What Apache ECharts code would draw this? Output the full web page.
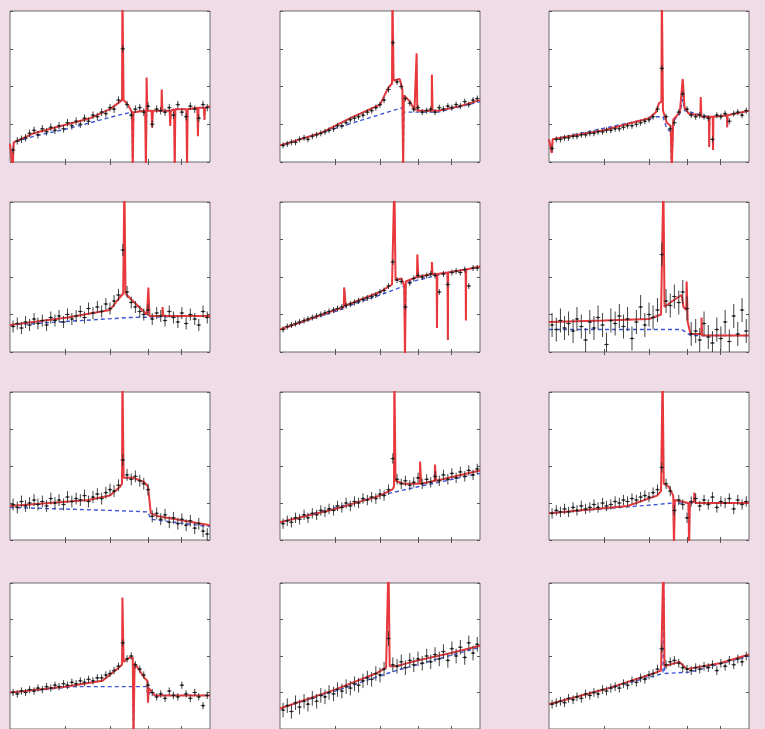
<!DOCTYPE html>
<html>
<head>
<meta charset="utf-8">
<script src="https://cdn.jsdelivr.net/npm/echarts@6/dist/echarts.min.js"></script>
<style>
  html, body { margin: 0; padding: 0; background: #efdce6; }
  #chart { width: 765px; height: 729px; }
</style>
</head>
<body>
<div id="chart"></div>
<script>
// Fe K band spectra, 4–9 keV, twelve sources in a 3 x 4 grid.
// Flux is in arbitrary units (0 = panel floor, 100 = panel top).

const energyKeV = [4.05,4.12,4.19,4.26,4.33,4.41,4.48,4.56,4.64,4.72,4.80,4.88,4.97,5.05,5.14,5.23,5.32,5.41,5.50,5.60,5.70,5.80,5.90,6.00,6.10,6.21,6.32,6.43,6.54,6.65,6.77,6.88,7.00,7.12,7.25,7.37,7.50,7.63,7.76,7.90,8.03,8.17,8.31,8.46,8.60,8.75,8.90];
const xTicks = [5, 6, 7, 8];

// measured fluxes, one array per source
const flux01 = [8,14,15,16,19,21,18,22,20,23,21,24,22,26,24,27,25,29,27,31,30,33,32,36,35,41,75,38,31,35,36,33,37,25,35,34,33,36,31,38,33,30,37,35,29,38,36];
const flux02 = [11,12,13,13,15,16,15,17,18,19,20,21,22,24,24,26,28,29,30,31,33,34,36,38,41,48,79,53,50,42,39,35,36,33,34,35,33,36,35,37,36,38,37,40,38,41,42];
const flux03 = [9,15,15,16,16,17,17,18,18,19,19,20,20,21,21,22,22,23,24,24,25,26,27,28,30,35,62,30,22,26,33,45,35,31,30,31,30,29,15,31,30,32,27,32,33,31,34];
const flux04 = [17,19,16,20,18,22,19,21,18,23,21,24,20,25,22,24,27,23,29,26,30,27,32,29,34,38,68,40,33,30,27,25,28,22,26,24,21,27,23,20,26,19,25,22,18,27,23];
const flux05 = [15,17,18,19,20,21,22,23,24,25,26,27,28,29,30,31,32,33,34,35,36,37,38,40,41,44,60,48,47,30,46,49,51,50,51,52,51,40,52,45,53,54,53,55,44,56,56];
const flux06 = [18,15,21,16,19,14,22,17,8,20,16,23,18,5,21,19,24,17,22,9,20,30,18,25,23,28,65,34,31,37,33,40,29,12,14,8,19,10,6,15,9,20,7,24,12,28,14];
const flux07 = [24,22,26,23,25,27,24,26,23,28,25,27,24,29,26,28,27,30,26,29,31,28,32,34,33,37,54,44,41,43,40,38,34,16,18,14,17,12,15,11,14,10,13,8,11,6,4];
const flux08 = [11,13,12,15,14,17,15,18,17,20,19,21,20,23,22,25,23,26,25,28,27,29,28,31,30,34,55,41,38,40,37,39,42,38,41,39,43,40,44,41,45,42,46,43,47,44,48];
const flux09 = [18,20,19,21,19,22,20,23,21,22,24,22,25,23,24,26,25,27,26,28,27,29,30,29,32,34,49,38,33,20,27,24,15,26,28,23,27,24,29,22,26,25,28,21,27,24,26];
const flux10 = [25,24,26,25,27,26,28,27,29,28,30,29,31,30,32,31,33,32,34,33,35,35,37,38,40,43,59,48,50,44,41,37,30,25,22,24,21,26,23,22,30,24,21,25,22,16,23];
const flux11 = [13,16,12,18,15,19,17,21,19,23,22,25,24,27,26,29,28,31,30,33,35,34,38,37,41,62,44,43,46,42,47,44,48,45,50,46,51,48,53,47,55,50,56,49,59,52,58];
const flux12 = [17,18,19,18,21,20,22,21,24,23,25,24,27,26,28,29,28,31,30,33,32,35,34,37,38,41,55,44,46,47,45,42,41,40,42,41,43,42,44,40,45,43,47,44,48,46,50];

// 1-sigma errors, one per source
const fluxErr = [2.5, 2, 2, 4, 2, 8, 4, 3.5, 3.5, 2.5, 5, 3];

// best-fitting model (continuum + lines), [keV, flux]
const model01 = [[4,12],[4.03,12],[4.045,-5],[4.06,13],[4.4,19],[5.05,25],[5.54,29],[6.0,35],[6.2,39],[6.3,41],[6.31,115],[6.33,115],[6.34,41],[6.45,38],[6.56,33],[6.58,-5],[6.6,33],[6.92,34],[6.94,-5],[6.955,34],[6.96,56],[6.975,56],[6.98,34],[7.1,34],[7.12,23],[7.14,34],[7.39,34],[7.4,48],[7.415,48],[7.42,34],[7.64,34],[7.66,24],[7.68,34],[7.78,35],[7.8,-5],[7.82,35],[8.18,35],[8.2,-5],[8.22,35],[8.55,36],[8.57,17],[8.59,36],[8.78,36],[8.8,28],[8.82,36],[9,37]];
const model02 = [[4,11],[4.71,19],[5.32,29],[6.0,38],[6.2,49],[6.3,52],[6.31,115],[6.33,115],[6.34,54],[6.5,55],[6.57,48],[6.59,-5],[6.61,44],[6.78,40],[6.9,34],[6.955,34],[6.96,72],[6.975,72],[6.98,34],[7.4,34],[7.405,58],[7.42,58],[7.425,34],[7.6,34],[8.3,37],[9,41]];
const model03 = [[4,15],[4.03,15],[4.045,6],[4.06,15],[5,21],[6.0,29],[6.17,33],[6.25,39],[6.31,40],[6.32,115],[6.34,115],[6.35,34],[6.45,26],[6.55,24],[6.58,-5],[6.62,28],[6.8,33],[6.86,50],[6.88,55],[6.9,55],[6.93,36],[7.05,32],[7.39,31],[7.4,43],[7.415,43],[7.42,30],[7.65,30],[7.66,10],[7.67,30],[7.77,30],[7.78,8],[7.79,30],[8.23,31],[8.24,23],[8.25,31],[9,34]];
const model04 = [[4,18],[5.05,23],[6.0,28],[6.2,35],[6.33,39],[6.35,39],[6.36,115],[6.38,115],[6.39,39],[6.5,36],[6.97,25],[7.0,25],[7.01,43],[7.03,43],[7.04,24],[7.42,24],[7.425,30],[7.44,30],[7.445,24],[9,24]];
const model05 = [[4,15],[5.0,28],[5.18,30],[5.19,43],[5.21,43],[5.22,31],[6.0,40],[6.3,45],[6.35,46],[6.36,115],[6.38,115],[6.39,48],[6.55,49],[6.62,44],[6.64,-5],[6.66,47],[6.97,50],[6.98,65],[7.0,65],[7.01,50],[7.4,52],[7.405,60],[7.42,60],[7.425,52],[7.55,52],[7.56,16],[7.57,52],[7.89,53],[7.9,8],[7.91,53],[8.49,55],[8.5,21],[8.51,55],[9,57]];
const model06 = [[4,20],[5.0,21],[6.0,22],[6.3,25],[6.35,25],[6.36,115],[6.38,115],[6.39,30],[6.6,34],[6.85,38],[6.9,30],[6.98,28],[6.99,47],[7.01,47],[7.02,20],[7.1,12],[7.42,12],[7.425,23],[7.44,23],[7.445,11],[9,11]];
const model07 = [[4,23],[5.5,27],[6.0,30],[6.25,36],[6.3,38],[6.31,115],[6.33,115],[6.34,42],[6.6,42],[6.9,39],[7.0,36],[7.08,18],[7.3,16],[9,10]];
const model08 = [[4,12],[5.0,21],[6.0,30],[6.3,34],[6.35,36],[6.36,115],[6.38,115],[6.39,40],[6.6,38],[7.05,38],[7.06,53],[7.08,53],[7.09,38],[7.49,40],[7.5,51],[7.52,51],[7.53,40],[9,47]];
const model09 = [[4,18],[5.5,23],[6.2,30],[6.3,33],[6.33,34],[6.34,115],[6.36,115],[6.37,38],[6.5,36],[6.62,30],[6.64,-5],[6.66,27],[7.04,25],[7.06,-5],[7.08,25],[7.2,26],[7.21,32],[7.23,32],[7.24,25],[9,25]];
const model10 = [[4,25],[5.0,29],[5.82,33],[6.17,41],[6.3,44],[6.31,90],[6.33,90],[6.34,46],[6.5,49],[6.58,49],[6.6,-5],[6.63,45],[6.9,35],[6.98,33],[7.0,18],[7.02,28],[7.2,23],[9,23]];
const model11 = [[4,14],[5.0,27],[5.9,38],[6.15,42],[6.2,42],[6.21,115],[6.23,115],[6.24,43],[6.4,43],[7.0,47],[8.0,52],[9,57]];
const model12 = [[4,17],[5.0,27],[6.0,37],[6.3,40],[6.35,41],[6.36,115],[6.38,115],[6.39,43],[6.78,46],[7.0,41],[8.0,45],[9,51]];

// continuum with absorption only, [keV, flux]
const cont01 = [[4,12],[4.03,12],[4.045,-5],[4.06,13],[4.4,17],[5.05,22],[5.54,26],[6.2,31],[6.56,33],[6.58,-5],[6.6,33],[6.93,34],[6.945,-5],[6.96,34],[7.11,34],[7.12,23],[7.13,34],[7.65,34],[7.66,24],[7.67,34],[7.79,35],[7.8,-5],[7.81,35],[8.19,35],[8.2,-5],[8.21,35],[8.56,36],[8.57,17],[8.58,36],[8.79,36],[8.8,28],[8.81,36],[9,37]];
const cont02 = [[4,11],[6.57,36],[6.59,-5],[6.61,33],[7.6,33],[9,40]];
const cont03 = [[4,15],[4.03,15],[4.045,6],[4.06,15],[6.2,30],[6.35,30],[6.45,22],[6.55,20],[6.58,-5],[6.62,27],[6.8,32],[6.88,42],[6.93,34],[7.65,30],[7.66,10],[7.67,30],[7.77,30],[7.78,8],[7.79,30],[8.23,31],[8.24,23],[8.25,31],[9,34]];
const cont04 = [[4,18],[6.5,23],[9,24]];
const cont05 = [[4,15],[5.0,27],[5.18,29],[5.19,43],[5.21,43],[5.22,30],[6.0,38],[6.62,44],[6.64,-5],[6.66,46],[7.55,51],[7.56,16],[7.57,51],[7.89,53],[7.9,8],[7.91,53],[8.49,55],[8.5,21],[8.51,55],[9,57]];
const cont06 = [[4,15],[6.85,15],[7.1,11],[9,11]];
const cont07 = [[4,22],[6.0,20],[7.0,19],[7.08,14],[9,9]];
const cont08 = [[4,12],[6.3,32],[7.0,36],[9,45]];
const cont09 = [[4,18],[6.2,24],[6.62,25],[6.64,-5],[6.66,25],[7.04,25],[7.06,-5],[7.08,25],[9,25]];
const cont10 = [[4,25],[5.2,29],[6.58,29],[6.6,-5],[6.62,29],[6.97,29],[7.0,18],[7.03,25],[7.2,23],[9,23]];
const cont11 = [[4,14],[5.0,26],[6.4,40],[9,56]];
const cont12 = [[4,17],[6.35,38],[6.36,115],[6.38,115],[6.39,38],[7.1,39],[9,50]];

const fluxes = [flux01,flux02,flux03,flux04,flux05,flux06,flux07,flux08,flux09,flux10,flux11,flux12];
const models = [model01,model02,model03,model04,model05,model06,model07,model08,model09,model10,model11,model12];
const conts  = [cont01,cont02,cont03,cont04,cont05,cont06,cont07,cont08,cont09,cont10,cont11,cont12];

// panel placement
const colLeft = [10, 280, 549];
const rowTop = [11, 202, 392, 583];
const rowHeight = [151, 150, 148, 150];
const panelWidth = 200;

const chart = echarts.init(document.getElementById('chart'), null, { renderer: 'canvas' });

const grids = [], xAxes = [], yAxes = [], series = [];
const tickStyle = { color: '#555', width: 1 };

fluxes.forEach((flux, i) => {
  const r = Math.floor(i / 3), c = i % 3;
  grids.push({
    left: colLeft[c], top: rowTop[r], width: panelWidth, height: rowHeight[r],
    show: true, backgroundColor: '#ffffff', borderColor: '#6b6b6b', borderWidth: 1
  });
  ['bottom', 'top'].forEach(pos => xAxes.push({
    gridIndex: i, type: 'log', logBase: 10, min: 4, max: 9, position: pos,
    axisLine: { show: false },
    axisTick: { show: true, inside: true, length: 3, customValues: xTicks, lineStyle: tickStyle },
    axisLabel: { show: false }, splitLine: { show: false }
  }));
  ['left', 'right'].forEach(pos => yAxes.push({
    gridIndex: i, type: 'value', min: 0, max: 100, interval: 25, position: pos,
    axisLine: { show: false },
    axisTick: { show: true, inside: true, length: 3, lineStyle: tickStyle },
    axisLabel: { show: false }, splitLine: { show: false }
  }));
  const xi = 2 * i, yi = 2 * i;
  series.push({
    type: 'line', xAxisIndex: xi, yAxisIndex: yi, data: conts[i], showSymbol: false,
    clip: true, z: 2, lineStyle: { color: '#3d55d6', width: 1.4, type: [4, 3] }
  });
  series.push({
    type: 'line', xAxisIndex: xi, yAxisIndex: yi, data: models[i], showSymbol: false,
    clip: true, z: 3, lineStyle: { color: '#e8383c', width: 2 }
  });
  const err = fluxErr[i];
  series.push({
    type: 'custom', xAxisIndex: xi, yAxisIndex: yi, clip: true, z: 4,
    data: energyKeV.map((e, k) => [e, flux[k], err]),
    renderItem: (params, api) => {
      const e = api.value(0), f = api.value(1), s = api.value(2);
      const p = api.coord([e, f]);
      const lo = api.coord([e, f - s]);
      const hi = api.coord([e, f + s]);
      return {
        type: 'group', children: [
          { type: 'line', shape: { x1: p[0], y1: lo[1], x2: p[0], y2: hi[1] }, style: { stroke: '#2e2e2e', lineWidth: 0.9 } },
          { type: 'line', shape: { x1: p[0] - 2.2, y1: p[1], x2: p[0] + 2.2, y2: p[1] }, style: { stroke: '#2e2e2e', lineWidth: 0.9 } },
          { type: 'circle', shape: { cx: p[0], cy: p[1], r: 1.1 }, style: { fill: '#1a1a1a' } }
        ]
      };
    }
  });
});

chart.setOption({
  backgroundColor: '#efdce6',
  animation: false,
  grid: grids, xAxis: xAxes, yAxis: yAxes, series: series
});
</script>
</body>
</html>
